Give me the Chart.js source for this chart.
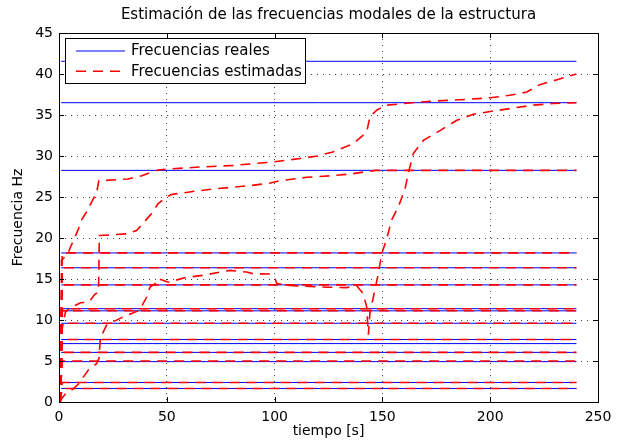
<!DOCTYPE html>
<html>
<head>
<meta charset="utf-8">
<script src="https://cdn.jsdelivr.net/npm/chart.js@4.4.1/dist/chart.umd.min.js"></script>
<style>
html, body { margin: 0; padding: 0; background: #fff; }
canvas { display: block; }
</style>
</head>
<body>
<canvas id="freqChart" width="619" height="440"></canvas>
<script>
// ticks
const xTicks = [0, 50, 100, 150, 200, 250];
const yTicks = [0, 5, 10, 15, 20, 25, 30, 35, 40, 45];

// real modal frequencies (blue lines)
const realFreqs = [1.65, 2.38, 4.92, 6.05, 7.12, 7.62, 9.6, 11.12, 11.38, 14.28, 16.37, 18.18, 28.25, 36.5, 41.55];
const realTimes = [1, 240];

// estimates that lock onto a mode straight away
const trackedFreqs = [1.65, 2.38, 5.0, 6.05, 7.62, 9.6, 11.12, 11.38, 14.28, 16.37, 18.18];
const trackedTimes = [0.5, 1.5, 240];

// slow estimates (three curves)
const curveATime = [0.5, 1.2, 4, 5.5, 7.4, 9, 10.5, 12.8, 14.4, 17.5, 18.5, 20, 32, 38.4, 46, 50, 65, 81, 99, 112,
  120, 127, 136.5, 142.7, 144.2, 147.4, 152, 164, 174, 189, 200, 209, 217, 223, 231, 240];
const curveAFreq = [0, 17.3, 18, 19, 20.1, 21.1, 22.2, 23.2, 24, 25.6, 27, 27, 27.2, 27.6, 28.3, 28.4, 28.65, 28.85, 29.27, 29.7,
  30, 30.5, 31.5, 32.9, 34.8, 35.6, 36.2, 36.5, 36.7, 36.9, 37.1, 37.4, 37.8, 38.7, 39.3, 40];

const curveBTime = [0.5, 1.5, 3, 6, 10, 14, 16.5, 18.3, 18.5, 18.7, 31, 36, 43, 46, 49, 52, 63, 72, 81, 89,
  98, 102.5, 115, 127, 136.5, 142.7, 147, 240];
const curveBFreq = [0, 9, 11, 11.6, 12.1, 12.2, 13.1, 13.4, 16, 20.3, 20.5, 20.9, 23, 24.2, 24.8, 25.3, 25.7, 26, 26.2, 26.4,
  26.7, 27, 27.4, 27.6, 27.85, 28.1, 28.25, 28.25];

const curveCTime = [0.5, 1.5, 3, 6.6, 9, 13.6, 17.5, 18.5, 19.2, 22, 28.3, 33.7, 37.6, 39, 40.7, 42.2, 44.5, 46, 50.7, 59,
  67, 74.7, 79.3, 87, 90, 97.9, 100.2, 101, 107, 116.4, 124.2, 133.4, 138, 141.1, 142.7, 143.5, 144.2, 145.8, 148.1, 149.7,
  152, 154.3, 157.4, 160.5, 162, 164.3, 169, 176.7, 184.5, 192.2, 200.7, 210.7, 220, 229.3, 240];
const curveCFreq = [0, 0.5, 1.0, 1.6, 2.2, 3.9, 4.7, 5.3, 7.8, 9.35, 10.2, 10.8, 11.2, 12, 12.8, 14, 14.4, 15.05, 14.6, 15.2,
  15.45, 15.85, 16.05, 15.85, 15.65, 15.6, 15.05, 14.45, 14.2, 14.1, 14.0, 13.95, 14.2, 13.2, 11.6, 8.2, 10.8, 12.8, 15.65, 18.1,
  19.9, 22.2, 23.8, 26, 27.85, 30.3, 31.9, 33.1, 34.35, 35.1, 35.45, 35.85, 36.2, 36.4, 36.5];

const legendLabels = ['Frecuencias reales', 'Frecuencias estimadas'];

const FONT = '"DejaVu Sans", Verdana, sans-serif';
const BLUE = '#0000ff';
const RED = '#ff0000';
const DASH = [10, 7];

function toPoints(times, values) {
  return times.map((t, i) => ({ x: t, y: values[i] }));
}

const datasets = [];

realFreqs.forEach(f => {
  datasets.push({
    label: legendLabels[0],
    data: toPoints(realTimes, realTimes.map(() => f)),
    borderColor: BLUE,
    borderWidth: 1,
    order: 2
  });
});

trackedFreqs.forEach(f => {
  datasets.push({
    label: legendLabels[1],
    data: toPoints(trackedTimes, [0, f, f]),
    borderColor: RED,
    borderWidth: 1.6,
    borderDash: DASH,
    order: 1
  });
});

[[curveATime, curveAFreq], [curveBTime, curveBFreq], [curveCTime, curveCFreq]].forEach(([t, f]) => {
  datasets.push({
    label: legendLabels[1],
    data: toPoints(t, f),
    borderColor: RED,
    borderWidth: 1.6,
    borderDash: DASH,
    order: 1
  });
});

// black frame with inward ticks, matlab style
const framePlugin = {
  id: 'frame',
  afterDatasetsDraw(chart) {
    const { ctx, chartArea: a, scales } = chart;
    ctx.save();
    ctx.strokeStyle = '#000';
    ctx.lineWidth = 1;
    ctx.beginPath();
    xTicks.forEach(v => {
      const px = Math.round(scales.x.getPixelForValue(v)) + 0.5;
      ctx.moveTo(px, a.bottom); ctx.lineTo(px, a.bottom - 5);
      ctx.moveTo(px, a.top); ctx.lineTo(px, a.top + 5);
    });
    yTicks.forEach(v => {
      const py = Math.round(scales.y.getPixelForValue(v)) + 0.5;
      ctx.moveTo(a.left, py); ctx.lineTo(a.left + 5, py);
      ctx.moveTo(a.right, py); ctx.lineTo(a.right - 5, py);
    });
    ctx.stroke();
    ctx.strokeRect(Math.round(a.left) + 0.5, Math.round(a.top) + 0.5,
      Math.round(a.right - a.left), Math.round(a.bottom - a.top));
    ctx.restore();
  }
};

// legend box inside the plot, top left
const legendPlugin = {
  id: 'insideLegend',
  afterDatasetsDraw(chart) {
    const { ctx, chartArea: a } = chart;
    const x0 = Math.round(a.left) + 6, y0 = Math.round(a.top) + 5;
    const w = 240, h = 45;
    ctx.save();
    ctx.fillStyle = '#fff';
    ctx.fillRect(x0, y0, w, h);
    ctx.strokeStyle = '#000';
    ctx.lineWidth = 1;
    ctx.strokeRect(x0 + 0.5, y0 + 0.5, w, h);
    const styles = [{ c: BLUE, w: 1, d: [] }, { c: RED, w: 1.6, d: DASH }];
    legendLabels.forEach((txt, i) => {
      const y = y0 + 13 + i * 20.3;
      ctx.beginPath();
      ctx.strokeStyle = styles[i].c;
      ctx.lineWidth = styles[i].w;
      ctx.setLineDash(styles[i].d);
      ctx.moveTo(x0 + 11, y);
      ctx.lineTo(x0 + 60, y);
      ctx.stroke();
      ctx.setLineDash([]);
      ctx.fillStyle = '#000';
      ctx.font = '15px ' + FONT;
      ctx.textBaseline = 'middle';
      ctx.fillText(txt, x0 + 66, y + 0.5);
    });
    ctx.restore();
  }
};

new Chart(document.getElementById('freqChart').getContext('2d'), {
  type: 'line',
  data: { datasets: datasets },
  options: {
    responsive: false,
    animation: false,
    devicePixelRatio: 1,
    layout: { padding: { left: 0, right: 21, top: 0, bottom: 0 } },
    elements: { point: { radius: 0 }, line: { tension: 0 } },
    plugins: {
      legend: { display: false },
      tooltip: { enabled: false },
      title: {
        display: true,
        fullSize: false,
        text: 'Estimación de las frecuencias modales de la estructura',
        color: '#000',
        font: { family: FONT, size: 15, weight: 'normal' },
        padding: { top: 6, bottom: 9 }
      }
    },
    scales: {
      x: {
        type: 'linear',
        min: 0, max: 250,
        afterBuildTicks: s => { s.ticks = xTicks.map(v => ({ value: v })); },
        afterFit: s => { s.height = 38; },
        ticks: { color: '#000', font: { family: FONT, size: 14 }, padding: 7, maxRotation: 0 },
        grid: { color: 'rgba(0,0,0,0.75)', lineWidth: 1, drawTicks: false },
        border: { display: false, dash: [1, 5] },
        title: { display: true, text: 'tiempo [s]', color: '#000', font: { family: FONT, size: 14 }, padding: { top: 0, bottom: 0 } }
      },
      y: {
        type: 'linear',
        min: 0, max: 45,
        afterBuildTicks: s => { s.ticks = yTicks.map(v => ({ value: v })); },
        afterFit: s => { s.width = 59; },
        ticks: { color: '#000', font: { family: FONT, size: 14 }, padding: 6 },
        grid: { color: 'rgba(0,0,0,0.75)', lineWidth: 1, drawTicks: false },
        border: { display: false, dash: [1, 5] },
        title: { display: true, text: 'Frecuencia Hz', color: '#000', font: { family: FONT, size: 14 }, padding: { top: 10, bottom: 0 } }
      }
    }
  },
  plugins: [framePlugin, legendPlugin]
});
</script>
</body>
</html>
